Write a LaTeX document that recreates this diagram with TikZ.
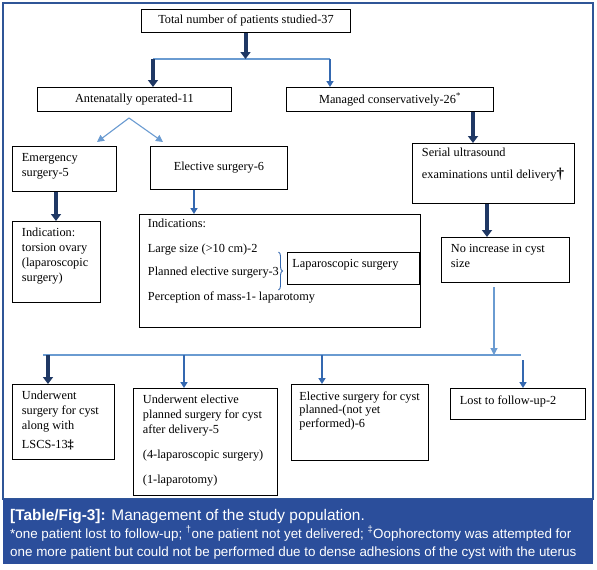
\documentclass[tikz,border=0pt]{standalone}
\usepackage{fontspec}
\setmainfont{Liberation Serif}
\newfontfamily\capfont{Liberation Sans}
\usetikzlibrary{arrows.meta,decorations.pathreplacing}
\definecolor{navyc}{HTML}{1F3864}
\definecolor{midblue}{HTML}{3468B0}
\definecolor{lightblue}{HTML}{6A9BD1}
\definecolor{framec}{HTML}{2F5597}
\definecolor{bandc}{HTML}{2B4E9B}
\newcommand\bxL[6]{\node[box] (#1) at (#2,#3) {\parbox[c][#5pt][t]{#4pt}{\raggedright\leftskip=9.5pt\parindent=0pt\vspace*{7pt}#6}};}
\newcommand\bxC[6]{\node[box] (#1) at (#2,#3) {\parbox[c][#5pt][c]{#4pt}{\centering #6}};}
\tikzset{
  box/.style={draw=black, line width=0.9pt, fill=white, inner sep=0pt, anchor=north west, font=\fontsize{12.3}{14.8}\selectfont},
  heavy/.style={draw=navyc, line width=4pt, -{Triangle[width=10pt,length=7pt]}},
  medium/.style={draw=midblue, line width=2.4pt, -{Triangle[width=7pt,length=6pt]}},
  thin/.style={draw=lightblue, line width=1.1pt},
  thinarrow/.style={draw=lightblue, line width=1.1pt, -{Triangle[width=7pt,length=7pt]}},
  captext/.style={anchor=base west, inner sep=0pt, text=white}
}
\begin{document}
\begin{tikzpicture}[x=1pt,y=-1pt]
\useasboundingbox (0,0) rectangle (597,570);
\fill[white] (0,0) rectangle (597,570);
\draw[framec, line width=1.2pt] (3,3) rectangle (593,499);
\fill[bandc] (3,499) rectangle (593,564);

% boxes
\bxC{total}{141}{9}{209}{23}{Total number of patients studied-37}
\bxC{ante}{37}{87}{194}{24}{Antenatally operated-11}
\bxC{managed}{286}{87}{207}{24}{Managed conservatively-26\textsuperscript{*}}
\bxL{emerg}{12}{146}{104}{45}{Emergency\\ surgery-5}
\bxC{elect}{150}{146}{137}{43}{Elective surgery-6}
\bxL{serial}{412}{143}{162}{60}{\vspace*{-2pt}Serial ultrasound\\[7pt] examinations until delivery{\bfseries\fontsize{15}{15}\selectfont †}}
\bxL{indic}{12}{221}{88}{81}{Indication:\\ torsion ovary\\ (laparoscopic\\ surgery)}
\bxL{indics}{139}{214}{281}{113}{\leftskip=8.5pt\vspace*{-2pt}Indications:\\[10pt] Large size (>10 cm)-2\\[7.5pt] Planned elective surgery-3\\[10.5pt] Perception of mass-1- laparotomy}
\bxL{lap}{287}{252}{132}{32}{\leftskip=5pt Laparoscopic surgery}
\bxL{noinc}{441}{237}{128}{45}{No increase in cyst\\ size}
\bxL{b1}{12}{384}{102}{75}{Underwent\\ surgery for cyst\\ along with\\[4pt] LSCS-13{\bfseries ‡}}
\bxL{b2}{133}{388}{144}{107}{Underwent elective\\ planned surgery for cyst\\ after delivery-5\\[10pt] (4-laparoscopic surgery)\\[10.5pt] (1-laparotomy)}
\bxL{b3}{291}{384}{137}{76}{\leftskip=8pt Elective surgery for cyst\\[-1pt] planned-(not yet\\[-1pt] performed)-6}
\bxL{b4}{450}{388}{135}{31}{Lost to follow-up-2}

% junctions
\coordinate (j1) at (245.5,59);
\coordinate (jL) at (153,59);
\coordinate (jR) at (330,59);
\coordinate (vap) at (129,118);
\coordinate (vL) at (97,142);
\coordinate (vR) at (163,142);
\coordinate (nstart) at (494,287);
\coordinate (nend) at (494,355);
\coordinate (hL) at (43,355);
\coordinate (hR) at (521,355);
\coordinate (d1) at (48,355);
\coordinate (d2) at (184,355);
\coordinate (d3) at (322,355);
\coordinate (d4) at (523,360);

% connectors
\draw[thin] (jL) -- (jR);
\draw[heavy] (total.south -| j1) -- (j1);
\draw[heavy] (jL) -- (ante.north -| jL);
\draw[medium] (jR) -- (managed.north -| jR);
\draw[thinarrow] (vap) -- (vL);
\draw[thinarrow] (vap) -- (vR);
\draw[heavy] (managed.south -| 473,0) -- (serial.north -| 473,0);
\draw[heavy] (emerg.south -| 56,0) -- (indic.north -| 56,0);
\draw[medium] (elect.south -| 194,0) -- (indics.north -| 194,0);
\draw[heavy] (serial.south -| 487,0) -- (noinc.north -| 487,0);
\draw[thinarrow] (nstart) -- (nend);
\draw[thin] (hL) -- (hR);
\draw[heavy] (d1) -- (b1.north -| d1);
\draw[medium] (d2) -- (b2.north -| d2);
\draw[medium] (d3) -- (b3.north -| d3);
\draw[medium] (d4) -- (b4.north -| d4);

% brace
\draw[midblue, line width=0.9pt, decorate, decoration={brace, amplitude=4pt}] (278.5,252) -- (278.5,290);

% caption
\node[captext, font=\capfont\fontsize{15.4}{15.4}\selectfont] (cap1) at (10,520) {\textbf{[Table/Fig-3]:} Management of the study population.};
\node[captext, font=\capfont\fontsize{13.4}{13.4}\selectfont] (cap2) at (10,538) {*one patient lost to follow-up; \textsuperscript{†}one patient not yet delivered; \textsuperscript{‡}Oophorectomy was attempted for};
\node[captext, font=\capfont\fontsize{13.4}{13.4}\selectfont] (cap3) at (10,556) {one more patient but could not be performed due to dense adhesions of the cyst with the uterus};
\end{tikzpicture}
\end{document}
